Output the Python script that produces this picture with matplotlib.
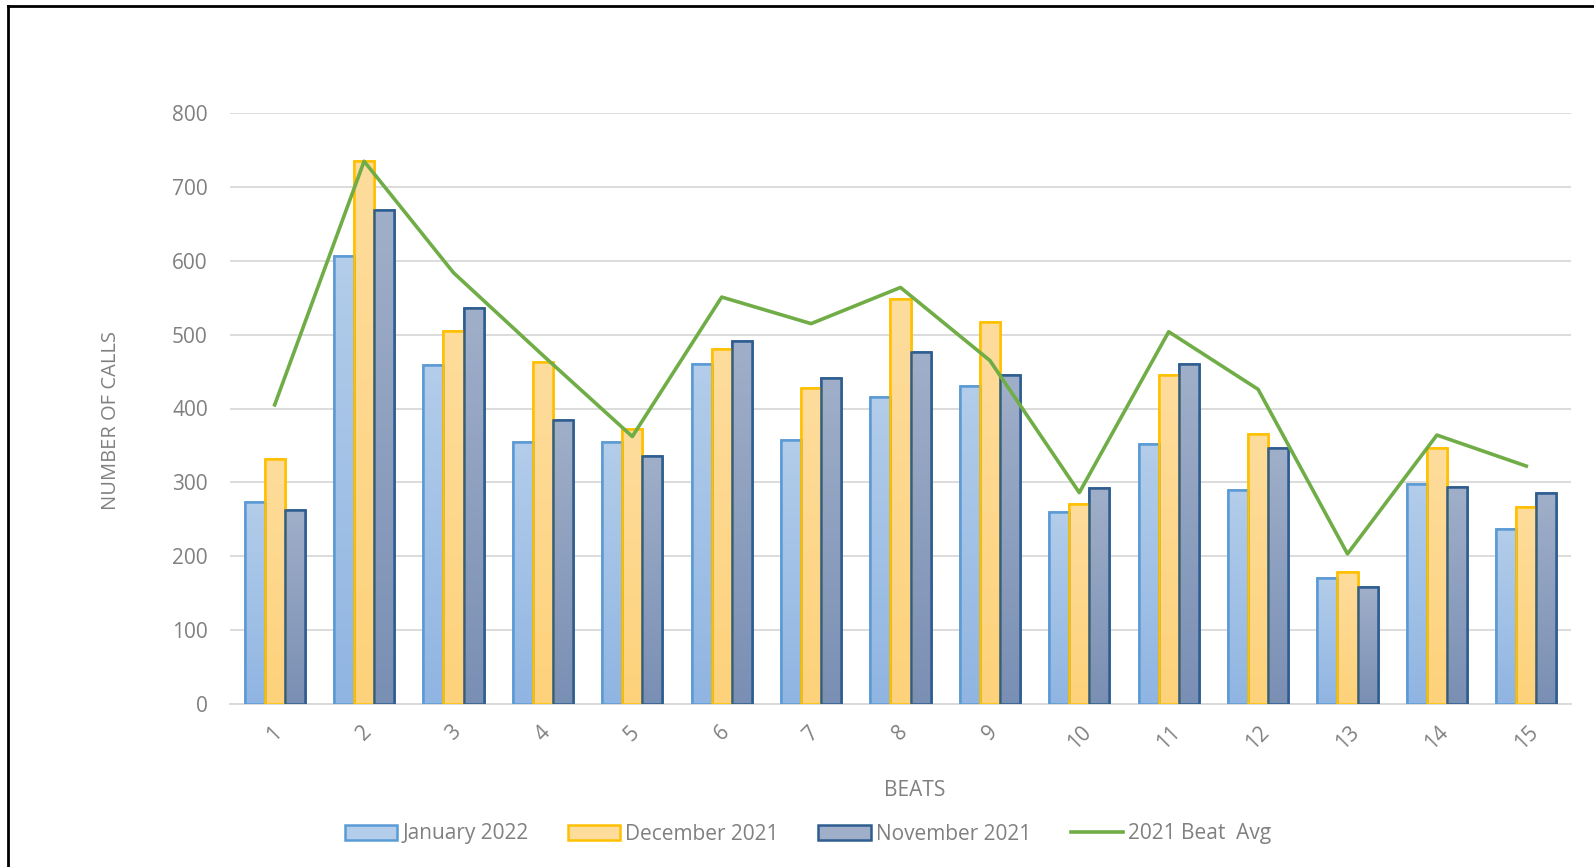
import numpy as np
import matplotlib
matplotlib.use("Agg")
import matplotlib.pyplot as plt
from matplotlib.colors import LinearSegmentedColormap
from matplotlib.lines import Line2D

plt.rcParams['font.family'] = ['Open Sans', 'DejaVu Sans']

beats = [str(i) for i in range(1, 16)]
jan_2022 = [273, 607, 459, 355, 354, 460, 357, 416, 431, 260, 352, 289, 170, 298, 237]
dec_2021 = [332, 735, 505, 463, 372, 480, 428, 548, 517, 271, 445, 366, 178, 346, 267]
nov_2021 = [263, 669, 536, 384, 335, 492, 441, 477, 445, 292, 460, 347, 158, 293, 286]
beat_avg = [405, 735, 584, 472, 362, 551, 515, 564, 465, 286, 504, 426, 203, 364, 322]

series = [
    ("January 2022", jan_2022, "#b3cdea", "#90b5e2", "#5b9bd5"),
    ("December 2021", dec_2021, "#fedc9c", "#fdd27a", "#ffc000"),
    ("November 2021", nov_2021, "#a0afc9", "#7a8fb4", "#2e5d8f"),
]

grey = "#808080"

fig = plt.figure(figsize=(15.94, 8.67), dpi=100)
ax = fig.add_axes([230 / 1594, 1 - 703.7 / 867, (1571 - 230) / 1594, (703.7 - 113.3) / 867])

x = np.arange(len(beats))
w = 0.224
grad = np.linspace(0, 1, 100).reshape(-1, 1)

handles = []
for k, (name, vals, top, bottom, edge) in enumerate(series):
    pos = x + (k - 1) * w
    bars = ax.bar(pos, vals, width=w, color=top, edgecolor=edge, linewidth=1.8,
                  label=name, zorder=3)
    handles.append(bars)
    cmap = LinearSegmentedColormap.from_list(name, [bottom, top])
    for b in bars:
        bx, by = b.get_x(), b.get_y()
        im = ax.imshow(grad, cmap=cmap, aspect='auto', origin='lower',
                       extent=[bx, bx + b.get_width(), by, by + b.get_height()],
                       zorder=3.1)
        im.set_clip_path(b)
    # outlines again, above the gradient
    ax.bar(pos, vals, width=w, fill=False, edgecolor=edge, linewidth=1.8, zorder=3.2)

line, = ax.plot(x, beat_avg, color="#70ad47", linewidth=2.6, label="2021 Beat  Avg", zorder=4)
handles.append(line)

ax.set_xlim(-0.5, len(beats) - 0.5)
ax.set_ylim(0, 800)
ax.set_yticks(range(0, 801, 100))
ax.set_xticks(x)
ax.set_xticklabels(beats, rotation=45, ha='center', va='top')
ax.tick_params(axis='both', length=0, labelsize=15, labelcolor=grey)
ax.tick_params(axis='y', pad=16)
ax.tick_params(axis='x', pad=13)
ax.grid(axis='y', color='#d9d9d9', linewidth=1.3, zorder=0)
for s in ['top', 'right', 'left']:
    ax.spines[s].set_visible(False)
ax.spines['bottom'].set_color('#d9d9d9')
ax.spines['bottom'].set_linewidth(1.3)

fig.text(111 / 1594, 1 - 420 / 867, "NUMBER OF CALLS", rotation=90, ha='center', va='center',
         fontsize=14.5, color=grey)
fig.text(915 / 1594, 1 - 790 / 867, "BEATS", ha='center', va='center', fontsize=15, color=grey)

leg = fig.legend(handles, [h.get_label() for h in handles], ncol=4, loc='center',
                 bbox_to_anchor=(808 / 1594, 1 - 834 / 867), frameon=False, fontsize=15,
                 handlelength=2.5, handleheight=0.7, handletextpad=0.25, columnspacing=1.9)
for t in leg.get_texts():
    t.set_color(grey)

# chart border: only the left and top edges are inside the picture
fig.add_artist(Line2D([8 / 1594, 8 / 1594], [0, 1 - 6 / 867], color='black', linewidth=2,
                      transform=fig.transFigure))
fig.add_artist(Line2D([8 / 1594, 1], [1 - 6 / 867, 1 - 6 / 867], color='black', linewidth=2,
                      transform=fig.transFigure))

plt.savefig('out.png', dpi=100)
